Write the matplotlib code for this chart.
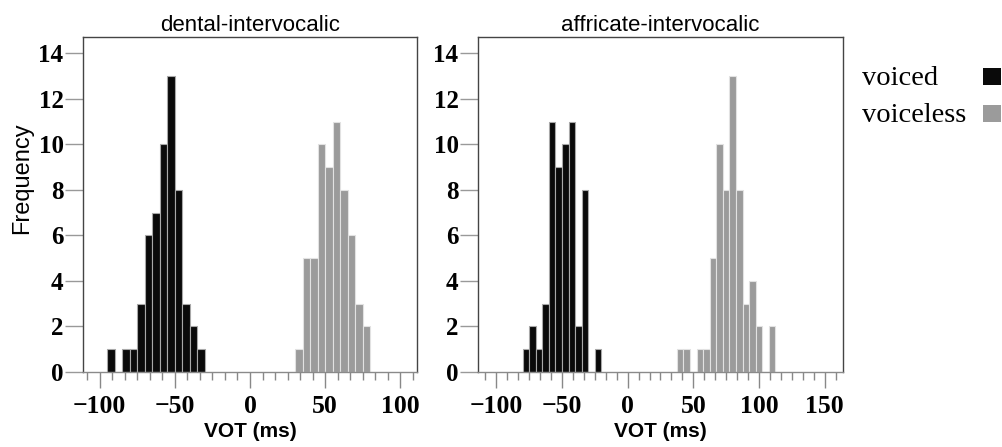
import numpy as np
import matplotlib
matplotlib.use("Agg")
import matplotlib.pyplot as plt
from matplotlib.ticker import MultipleLocator
from matplotlib.patches import Rectangle

# histogram counts per 5 ms bin
bin_width = 5

dental_voiced_start = -95
dental_voiced = [1, 0, 1, 1, 3, 6, 7, 10, 13, 8, 3, 2, 1]
dental_voiceless_start = 30
dental_voiceless = [1, 5, 5, 10, 9, 11, 8, 6, 3, 2]

affricate_voiced_start = -80
affricate_voiced = [1, 2, 1, 3, 11, 9, 10, 11, 2, 8, 0, 1]
affricate_voiceless_start = 37.5
affricate_voiceless = [1, 1, 0, 1, 1, 5, 10, 8, 13, 8, 3, 4, 2, 0, 2]

titles = ["dental-intervocalic", "affricate-intervocalic"]
xlims = [(-111, 111), (-114, 164)]
xticks = [[-100, -50, 0, 50, 100], [-100, -50, 0, 50, 100, 150]]
legend_labels = ["voiced", "voiceless"]

black = "#0a0a0a"
grey = "#9b9b9b"

W, H = 1003, 447
fig = plt.figure(figsize=(W / 100, H / 100), dpi=100)


def px(x0, y0, x1, y1):
    return [x0 / W, 1 - y1 / H, (x1 - x0) / W, (y1 - y0) / H]


axes = [fig.add_axes(px(83, 36.5, 417, 372)), fig.add_axes(px(478, 36.5, 843, 372))]
data = [
    [(dental_voiced_start, dental_voiced), (dental_voiceless_start, dental_voiceless)],
    [(affricate_voiced_start, affricate_voiced), (affricate_voiceless_start, affricate_voiceless)],
]

for ax, title, xl, xt, groups in zip(axes, titles, xlims, xticks, data):
    for (start, counts), col, ec in zip(groups, [black, grey], ["#a8a8a8", "#e2e2e2"]):
        left = start + bin_width * np.arange(len(counts))
        ax.bar(left, counts, width=bin_width, align="edge", color=col,
               edgecolor=ec, linewidth=0.8)
    ax.set_xlim(*xl)
    ax.set_ylim(0, 14.74)
    ax.set_xticks(xt)
    ax.xaxis.set_minor_locator(MultipleLocator(50 / 6))
    ax.set_yticks(range(0, 15, 2))
    for s in ax.spines.values():
        s.set_color("#444444")
        s.set_linewidth(1)
    ax.spines["bottom"].set_color("#8a8a8a")
    ax.tick_params(axis="y", which="major", length=13, width=1, color="#999999", pad=1)
    ax.tick_params(axis="x", which="major", length=11.5, width=1, color="#888888", pad=5)
    ax.tick_params(axis="x", which="minor", length=6, width=1, color="#888888")
    for lab in ax.get_yticklabels():
        lab.set_fontfamily("Liberation Serif")
        lab.set_fontweight("bold")
        lab.set_fontsize(18)
    for lab in ax.get_xticklabels():
        lab.set_fontfamily("Liberation Serif")
        lab.set_fontweight("bold")
        lab.set_fontsize(18.5)
    ax.set_title(title, family="Liberation Sans", fontsize=16, pad=4)
    ax.set_xlabel("VOT (ms)", family="Liberation Sans", fontweight="bold",
                  fontsize=15, labelpad=3)

fig.text(22 / W, 1 - 178 / H, "Frequency", rotation=90, family="Liberation Sans",
         fontsize=17, ha="center", va="center")

# legend: label then swatch
for lab, col, base in zip(legend_labels, [black, grey], [85, 121.5]):
    fig.text(862 / W, 1 - base / H, lab, family="Liberation Serif", fontsize=20.5,
             ha="left", va="baseline")
    fig.patches.append(Rectangle((983 / W, 1 - base / H), 18 / W, 17 / H,
                                 transform=fig.transFigure, facecolor=col,
                                 edgecolor="none"))

fig.savefig("out.png", dpi=100)
